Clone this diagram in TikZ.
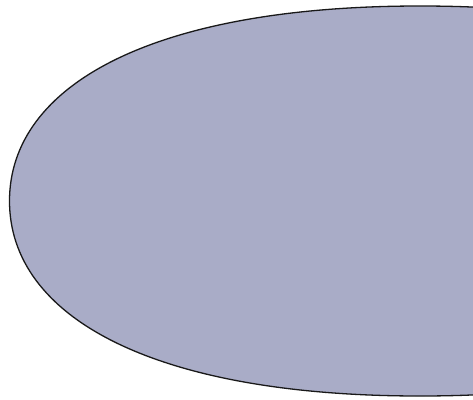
\documentclass[tikz,border=0pt]{standalone}
\definecolor{blobfill}{RGB}{169,172,199}
\tikzset{blob/.style={fill=blobfill,draw=black!90,line width=1.3pt}}
\begin{document}
\begin{tikzpicture}[x=1pt,y=-1pt]
\useasboundingbox (0,0) rectangle (473,399);
\fill[white] (0,0) rectangle (473,399);
\clip (0,0) rectangle (473,399);
\draw[blob] (9.5,201)
  .. controls (9.5,85) and (153,6) .. (420,6)
  .. controls (690,6) and (830,85) .. (830,201)
  .. controls (830,317) and (690,396) .. (420,396)
  .. controls (153,396) and (9.5,317) .. (9.5,201) -- cycle;
\end{tikzpicture}
\end{document}
